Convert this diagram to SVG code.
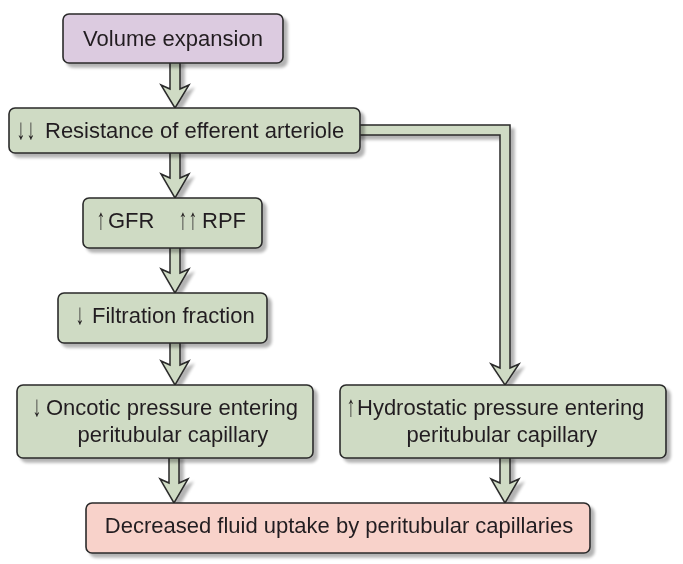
<svg xmlns="http://www.w3.org/2000/svg" width="683" height="564" viewBox="0 0 683 564">
<defs>
<filter id="sh" x="-10%" y="-10%" width="130%" height="140%">
<feGaussianBlur in="SourceAlpha" stdDeviation="1.5"/>
<feOffset dx="4" dy="4" result="b"/>
<feComponentTransfer><feFuncA type="linear" slope="0.3"/></feComponentTransfer>
<feMerge><feMergeNode/><feMergeNode in="SourceGraphic"/></feMerge>
</filter>
<style>
.box{stroke:#2a2a2a;stroke-width:1.6;}
.g{fill:#cfdbc4;}
.p{fill:#dccbe0;}
.r{fill:#f8d2ca;}
.conn{fill:#cfdbc4;stroke:#2a2a2a;stroke-width:1.5;stroke-linejoin:miter;}
text{font-family:"Liberation Sans",Arial,"DejaVu Sans",sans-serif;font-size:22px;fill:#231f20;}
.c{text-anchor:middle;}
.ar{text-anchor:middle;}
</style>
</defs>
<rect width="683" height="564" fill="#ffffff"/>
<g id="connectors" filter="url(#sh)">
<path class="conn" d="M170,60 V89 L161,85 L175,108 L189,85 L180,89 V60 Z"/>
<path class="conn" d="M170,150 V178 L161,174 L175,198 L189,174 L180,178 V150 Z"/>
<path class="conn" d="M170,245 V273 L161,269 L175,293 L189,269 L180,273 V245 Z"/>
<path class="conn" d="M170,340 V365 L161,361 L175,385 L189,361 L180,365 V340 Z"/>
<path class="conn" d="M169,455 V483 L160,479 L174,503 L188,479 L179,483 V455 Z"/>
<path class="conn" d="M500,455 V483 L491,479 L505,503 L519,479 L510,483 V455 Z"/>
<path class="conn" d="M355,125 H510 V368 L519,364 L505,385 L491,364 L500,368 V135 H355 Z"/>
</g>
<g id="volume" filter="url(#sh)">
<rect class="box p" x="63" y="14" width="220" height="49" rx="6"/>
<text class="c" x="173" y="46">Volume expansion</text>
</g>
<g id="resistance" filter="url(#sh)">
<rect class="box g" x="9" y="108" width="351" height="45" rx="6"/>
<text class="ar" transform="translate(21,139) scale(0.8,1.35)">↓</text>
<text class="ar" transform="translate(31,139) scale(0.8,1.35)">↓</text>
<text x="45" y="138">Resistance of efferent arteriole</text>
</g>
<g id="gfr" filter="url(#sh)">
<rect class="box g" x="83" y="198" width="179" height="50" rx="6"/>
<text class="ar" transform="translate(101,229) scale(0.8,1.35)">↑</text>
<text x="108" y="228">GFR</text>
<text class="ar" transform="translate(183,229) scale(0.8,1.35)">↑</text>
<text class="ar" transform="translate(193,229) scale(0.8,1.35)">↑</text>
<text x="202" y="228">RPF</text>
</g>
<g id="filtration" filter="url(#sh)">
<rect class="box g" x="58" y="293" width="209" height="50" rx="6"/>
<text class="ar" transform="translate(80,324) scale(0.8,1.35)">↓</text>
<text x="92" y="323">Filtration fraction</text>
</g>
<g id="oncotic" filter="url(#sh)">
<rect class="box g" x="17" y="385" width="296" height="73" rx="6"/>
<text class="ar" transform="translate(37,416) scale(0.8,1.35)">↓</text>
<text x="46" y="415">Oncotic pressure entering</text>
<text class="c" x="173" y="442">peritubular capillary</text>
</g>
<g id="hydrostatic" filter="url(#sh)">
<rect class="box g" x="340" y="385" width="326" height="73" rx="6"/>
<text class="ar" transform="translate(351,416) scale(0.8,1.35)">↑</text>
<text x="357" y="415">Hydrostatic pressure entering</text>
<text class="c" x="502" y="442">peritubular capillary</text>
</g>
<g id="decreased" filter="url(#sh)">
<rect class="box r" x="86" y="503" width="504" height="50" rx="6"/>
<text class="c" x="339" y="533">Decreased fluid uptake by peritubular capillaries</text>
</g>
</svg>
